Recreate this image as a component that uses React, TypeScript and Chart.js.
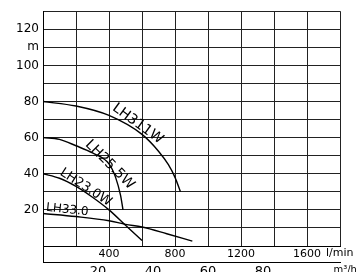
import React, { useEffect, useRef } from 'react';
import { Chart, registerables } from 'chart.js';

Chart.register(...registerables);

// Axis ticks
const flowLabelsLmin = [400, 800, 1200, 1600];
const flowLabelsM3h = [20, 40, 60, 80, 100];
const headLabelValues = [120, 110, 100, 80, 60, 40, 20];
const headLabelTexts = ['120', 'm', '100', '80', '60', '40', '20'];

// Pump curves: flow (l/min) vs head (m)
const lh311wQ = [0, 200, 400, 600, 700, 760, 800, 833];
const lh311wH = [80, 77.5, 72.3, 61.8, 52.5, 45, 38, 30];

const lh255wQ = [0, 100, 200, 300, 400, 440, 470, 485];
const lh255wH = [60, 59, 55.5, 51.5, 45.5, 38, 28, 20];

const lh230wQ = [0, 100, 200, 300, 400, 500, 600];
const lh230wH = [40, 37.5, 33, 27, 20, 11.5, 3];

const lh330Q = [0, 200, 400, 500, 600, 750, 905];
const lh330H = [18, 16.3, 14, 12, 10.5, 6.8, 2.7];

const seriesNames = ['LH311W', 'LH25.5W', 'LH23.0W', 'LH33.0'];
const seriesQ = [lh311wQ, lh255wQ, lh230wQ, lh330Q];
const seriesH = [lh311wH, lh255wH, lh230wH, lh330H];

// Curve label placement (annotation config)
const curveLabels = [
  { text: 'LH311W', q: 574, h: 67.6, angle: 36, size: 14 },
  { text: 'LH25.5W', q: 404, h: 45, angle: 45, size: 14 },
  { text: 'LH23.0W', q: 259, h: 32.4, angle: 33, size: 13 },
  { text: 'LH33.0', q: 147, h: 20, angle: 6, size: 12 },
];

const FONT = 'DejaVu Sans, Arial, sans-serif';

const extrasPlugin = {
  id: 'extras',
  afterDraw(chart: any) {
    const ctx = chart.ctx as CanvasRenderingContext2D;
    const xs = chart.scales.x;
    const x2 = chart.scales.x2;
    const ys = chart.scales.y;
    const area = chart.chartArea;
    ctx.save();
    // left axis continuation through the flow label band
    ctx.strokeStyle = '#000';
    ctx.lineWidth = 1;
    ctx.beginPath();
    ctx.moveTo(Math.round(area.left) + 0.5, area.bottom);
    ctx.lineTo(Math.round(area.left) + 0.5, x2.top + 1);
    ctx.stroke();

    // unit labels
    ctx.fillStyle = '#000';
    ctx.textBaseline = 'top';
    ctx.textAlign = 'left';
    ctx.font = `11px ${FONT}`;
    const lastL = flowLabelsLmin[flowLabelsLmin.length - 1];
    const wL = ctx.measureText(String(lastL)).width;
    ctx.fillText('l/min', xs.getPixelForValue(lastL) + wL / 2 + 5, xs.top + 2);
    ctx.font = `13px ${FONT}`;
    const lastM = flowLabelsM3h[flowLabelsM3h.length - 1];
    const wM = ctx.measureText(String(lastM)).width;
    ctx.font = `10px ${FONT}`;
    ctx.fillText('m³/h', x2.getPixelForValue(lastM) + wM / 2 + 3, x2.top + 3);

    // curve labels
    ctx.textAlign = 'center';
    ctx.textBaseline = 'middle';
    for (const lab of curveLabels) {
      const px = xs.getPixelForValue(lab.q);
      const py = ys.getPixelForValue(lab.h);
      ctx.save();
      ctx.translate(px, py);
      ctx.rotate((lab.angle * Math.PI) / 180);
      ctx.font = `${lab.size}px ${FONT}`;
      ctx.fillText(lab.text, 0, 0);
      ctx.restore();
    }
    ctx.restore();
  },
};

export default function App() {
  const ref = useRef<HTMLCanvasElement>(null);
  useEffect(() => {
    const canvas = ref.current;
    if (!canvas) return;
    const chart = new Chart(canvas, {
      type: 'line',
      data: {
        datasets: seriesNames.map((name, i) => ({
          label: name,
          data: seriesQ[i].map((q, j) => ({ x: q, y: seriesH[i][j] })),
          borderColor: '#000',
          borderWidth: 1.4,
          pointRadius: 0,
          fill: false,
          cubicInterpolationMode: 'monotone' as const,
        })),
      },
      options: {
        animation: false,
        responsive: false,
        maintainAspectRatio: false,
        layout: { padding: { top: 9, right: 24, left: 0, bottom: 0 } },
        plugins: { legend: { display: false }, tooltip: { enabled: false } },
        scales: {
          x: {
            type: 'linear',
            position: 'bottom',
            min: 0,
            max: 1800,
            ticks: {
              stepSize: 200,
              autoSkip: false,
              maxRotation: 0,
              padding: 2,
              color: '#000',
              font: { family: FONT, size: 11 },
              callback: (v: any) => (flowLabelsLmin.includes(Number(v)) ? String(v) : ''),
            },
            grid: { color: '#222', lineWidth: 1, drawTicks: false },
            border: { display: true, color: '#000', width: 1 },
            afterFit: (s: any) => {
              s.height = 16;
            },
          },
          x2: {
            type: 'linear',
            position: 'bottom',
            min: 0,
            max: 108,
            ticks: {
              stepSize: 20,
              autoSkip: false,
              maxRotation: 0,
              padding: 2,
              color: '#000',
              font: { family: FONT, size: 13 },
              callback: (v: any) => (flowLabelsM3h.includes(Number(v)) ? String(v) : ''),
            },
            grid: { display: false, drawTicks: false },
            border: { display: true, color: '#000', width: 1 },
            afterFit: (s: any) => {
              s.height = 10;
            },
          },
          y: {
            type: 'linear',
            min: 0,
            max: 130,
            ticks: {
              stepSize: 10,
              autoSkip: false,
              padding: 4,
              color: '#000',
              font: { family: FONT, size: 12 },
              callback: (v: any) => {
                const idx = headLabelValues.indexOf(Number(v));
                return idx >= 0 ? headLabelTexts[idx] : '';
              },
            },
            grid: { color: '#222', lineWidth: 1, drawTicks: false },
            border: { display: true, color: '#000', width: 1 },
            afterFit: (s: any) => {
              s.width = 43;
            },
          },
        },
      },
      plugins: [extrasPlugin],
    });
    return () => chart.destroy();
  }, []);
  return (
    <canvas
      ref={ref}
      width={364}
      height={272}
      style={{ position: 'fixed', left: 0, top: 0, width: 364, height: 272, background: '#fff' }}
    />
  );
}
